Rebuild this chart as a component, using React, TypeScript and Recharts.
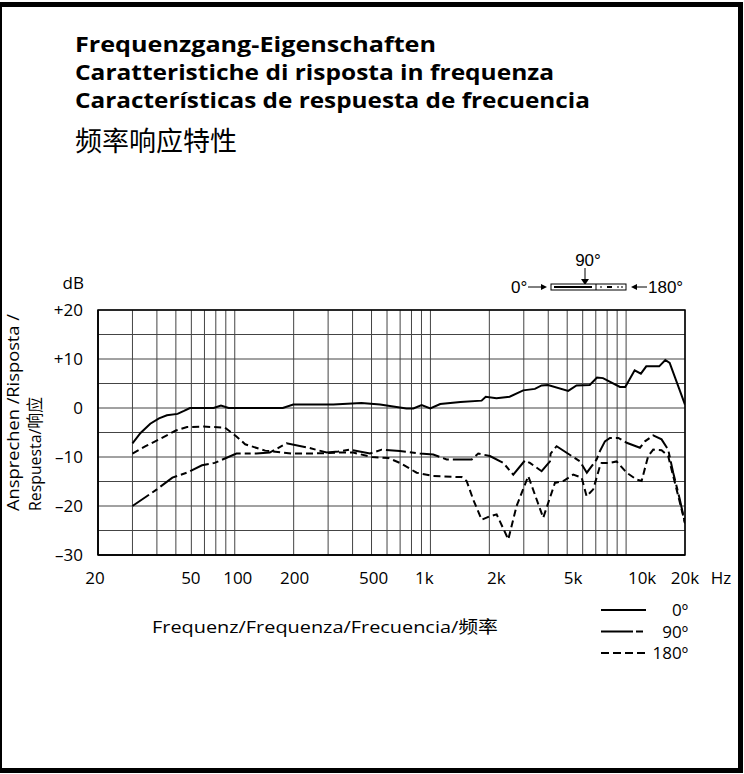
import React from "react";
import { LineChart, Line, XAxis, YAxis, CartesianGrid, ReferenceArea } from "recharts";

// ---------- data ----------
const freq0 = [30, 33, 37, 41, 45, 51, 55, 59, 78, 85, 93, 176, 199, 241, 319, 444, 553, 645, 754, 818, 902, 998, 1122, 1424, 1826, 1917, 2176, 2540, 2980, 3420, 3700, 3990, 5060, 5580, 6520, 7100, 7620, 9300, 9900, 11060, 11900, 12680, 14760, 15860, 16700, 20000];
const resp0 = [-7.2, -5.1, -3.2, -2.1, -1.5, -1.2, -0.6, 0, 0, 0.5, 0, 0, 0.7, 0.7, 0.7, 1.0, 0.7, 0.3, -0.1, -0.1, 0.6, -0.1, 0.8, 1.2, 1.5, 2.3, 2.0, 2.3, 3.6, 3.9, 4.6, 4.7, 3.5, 4.6, 4.7, 6.2, 6.1, 4.3, 4.3, 7.7, 7.0, 8.5, 8.5, 9.8, 9.2, 0.7];

const freq90 = [30, 40, 48, 57, 68, 79, 102, 129, 151, 184, 238, 295, 338, 388, 491, 564, 698, 884, 1034, 1210, 1624, 1755, 2014, 2356, 2650, 3041, 3224, 3700, 4083, 4112, 4416, 5808, 6300, 7068, 7348, 7796, 8266, 9120, 10066, 11770, 12480, 13760, 15180, 16410, 17410, 18830, 20000];
const resp90 = [-20, -16.6, -14.2, -13.2, -11.7, -11.2, -9.3, -9.3, -9.1, -7.2, -8.1, -9.1, -8.9, -8.5, -9.3, -8.5, -8.8, -9.3, -9.5, -10.5, -10.5, -9.3, -9.8, -11.2, -13.6, -10.7, -11.2, -12.9, -10.9, -9.3, -7.8, -10.9, -13.2, -10.5, -8.8, -6.8, -6.1, -6.1, -7.1, -8.1, -6.8, -5.6, -6.4, -8.5, -13.2, -18.7, -23.5];

const freq180 = [30, 35, 41, 50, 57, 69, 89, 102, 113, 143, 195, 241, 294, 338, 403, 501, 609, 698, 850, 1034, 1444, 1531, 1655, 1827, 2014, 2179, 2500, 2757, 3162, 3771, 4327, 4774, 5368, 5926, 6284, 6792, 7348, 7498, 8266, 8943, 10066, 11320, 12000, 12970, 13760, 15180, 16410, 17410, 18830, 20000];
const resp180 = [-9.3, -7.8, -6.4, -4.6, -3.9, -3.8, -4.0, -5.8, -7.4, -8.7, -9.3, -9.3, -9.2, -9.1, -9.1, -10.0, -10.2, -11.2, -13.2, -13.9, -14.1, -14.9, -18.7, -22.8, -22.1, -21.7, -26.8, -20.0, -13.9, -22.4, -15.3, -14.9, -13.6, -14.2, -18.0, -16.6, -11.9, -11.2, -11.2, -10.9, -13.2, -14.6, -14.9, -9.8, -8.5, -8.6, -9.8, -13.9, -19.3, -23.5];

const gridFreqs = [20, 30, 40, 50, 60, 70, 80, 90, 100, 200, 300, 400, 500, 600, 700, 800, 900, 1000, 2000, 3000, 4000, 5000, 6000, 7000, 8000, 9000, 10000, 20000];
const xLabelFreqs = [20, 50, 100, 200, 500, 1000, 2000, 5000, 10000, 20000];
const xLabelTexts = ["20", "50", "100", "200", "500", "1k", "2k", "5k", "10k", "20k"];
const xLabelNudge = [-3, 15, 3, 1, 2, -6, 7, 6, 16, 0];

const dbGrid = [-30, -25, -20, -15, -10, -5, 0, 5, 10, 15, 20];
const dbLabelValues = [-30, -20, -10, 0, 10, 20];
const dbLabelTexts = ["\u201330", "\u201320", "\u201310", "0", "+10", "+20"];

const titleLines = [
  "Frequenzgang-Eigenschaften",
  "Caratteristiche di risposta in frequenza",
  "Características de respuesta de frecuencia",
];
const titleCJK = "频率响应特性";

const seriesNames = ["0º", "90º", "180º"];
const seriesDash = [undefined, "20 4 6 4", "7 4"];
const legendDash = [undefined, "32 3 7 40", "8 4"];

const series = [
  { key: "s0", freqs: freq0, resp: resp0 },
  { key: "s90", freqs: freq90, resp: resp90 },
  { key: "s180", freqs: freq180, resp: resp180 },
].map((s, i) => ({
  ...s,
  name: seriesNames[i],
  dash: seriesDash[i],
  data: s.freqs.map((f, j) => ({ f, db: s.resp[j] })),
}));

const FONT = "'Open Sans', 'Noto Sans', 'Noto Sans CJK SC', sans-serif";

const XTick = (props: any) => {
  const { x, y, payload } = props;
  const idx = xLabelFreqs.indexOf(payload.value);
  if (idx < 0) return <g />;
  return (
    <text x={x + xLabelNudge[idx]} y={y + 29} textAnchor="middle" fontSize={17} fontFamily={FONT} fill="#000">
      {xLabelTexts[idx]}
    </text>
  );
};

const YTick = (props: any) => {
  const { x, y, payload } = props;
  const idx = dbLabelValues.indexOf(payload.value);
  if (idx < 0) return <g />;
  return (
    <text x={x - 15} y={y + 6} textAnchor="end" fontSize={17} fontFamily={FONT} fill="#000">
      {dbLabelTexts[idx]}
    </text>
  );
};

export default function App() {
  return (
    <div
      style={{
        position: "absolute",
        left: 0,
        top: 0,
        width: 744,
        height: 774,
        background: "#fff",
        fontFamily: FONT,
      }}
    >
      <LineChart
        width={744}
        height={774}
        margin={{ top: 310, right: 59, bottom: 179, left: 38 }}
      >
        <CartesianGrid stroke="#444" strokeWidth={1} />
        <XAxis
          dataKey="f"
          type="number"
          scale="log"
          domain={[20, 20000]}
          ticks={gridFreqs}
          interval={0}
          allowDataOverflow
          tickLine={false}
          tickSize={0}
          tickMargin={0}
          axisLine={{ stroke: "#000", strokeWidth: 1.5 }}
          tick={<XTick />}
          height={40}
        />
        <YAxis
          type="number"
          domain={[-30, 20]}
          ticks={dbGrid}
          interval={0}
          allowDataOverflow
          tickLine={false}
          tickSize={0}
          tickMargin={0}
          axisLine={{ stroke: "#000", strokeWidth: 1.5 }}
          tick={<YTick />}
          width={60}
        />
        <ReferenceArea x1={20} x2={20000} y1={-30} y2={20} fill="none" stroke="#000" strokeWidth={1.5} />
        {series.map((s) => (
          <Line
            key={s.key}
            data={s.data}
            dataKey="db"
            name={s.name}
            type="linear"
            stroke="#000"
            strokeWidth={2}
            strokeDasharray={s.dash}
            dot={false}
            activeDot={false}
            isAnimationActive={false}
          />
        ))}
      </LineChart>

      <svg
        width={744}
        height={774}
        style={{ position: "absolute", left: 0, top: 0, pointerEvents: "none" }}
      >
        {/* outer frame */}
        <rect x={0} y={2} width={2} height={770} fill="#000" />
        <rect x={0} y={2} width={743} height={5} fill="#000" />
        <rect x={738} y={2} width={5} height={770} fill="#000" />
        <rect x={0} y={768} width={743} height={5} fill="#000" />

        {/* titles */}
        {titleLines.map((t, i) => (
          <text
            key={t}
            x={75}
            y={52 + i * 28}
            fontSize={20.5}
            fontWeight={700}
            fontFamily={FONT}
            fill="#000"
            textLength={[361, 479, 515][i]}
            lengthAdjust="spacingAndGlyphs"
          >
            {t}
          </text>
        ))}
        <text x={75} y={151} fontSize={27} fontFamily="'Noto Sans CJK SC', sans-serif" fill="#000">
          {titleCJK}
        </text>

        {/* axis unit labels */}
        <text x={84} y={289} textAnchor="end" fontSize={17} fontFamily={FONT} fill="#000">dB</text>
        <text x={721} y={584} textAnchor="middle" fontSize={17} fontFamily={FONT} fill="#000">Hz</text>

        {/* y-axis title */}
        <g transform="translate(19,511) rotate(-90)">
          <text x={0} y={0} fontSize={17} fontFamily={FONT} fill="#000" textLength={197} lengthAdjust="spacingAndGlyphs">
            Ansprechen /Risposta /
          </text>
          <text x={0} y={22} fontSize={17} fontFamily={FONT} fill="#000" textLength={114} lengthAdjust="spacingAndGlyphs">
            Respuesta/响应
          </text>
        </g>

        {/* x-axis title */}
        <text x={152} y={633} fontSize={17} fontFamily={FONT} fill="#000" textLength={346} lengthAdjust="spacingAndGlyphs">
          Frequenz/Frequenza/Frecuencia/频率
        </text>

        {/* legend */}
        {series.map((s, i) => (
          <g key={s.key}>
            <line
              x1={601}
              x2={646}
              y1={610 + i * 21.5}
              y2={610 + i * 21.5}
              stroke="#000"
              strokeWidth={2}
              strokeDasharray={legendDash[i]}
            />
            <text x={688} y={616 + i * 21.5} textAnchor="end" fontSize={17} fontFamily={FONT} fill="#000">
              {s.name}
            </text>
          </g>
        ))}

        {/* microphone orientation icon */}
        <g fontFamily="'Liberation Sans', Arial, sans-serif" fontSize={17} fill="#000">
          <text x={588} y={266} textAnchor="middle">90°</text>
          <line x1={585} x2={585} y1={268} y2={281} stroke="#000" strokeWidth={1} />
          <path d="M581,279 L585,285 L589,279 Z" fill="#000" />
          <text x={511} y={293}>0°</text>
          <line x1={528} x2={543} y1={287} y2={287} stroke="#000" strokeWidth={1} />
          <path d="M541,284 L547,287 L541,290 Z" fill="#000" />
          <rect x={551} y={284} width={75} height={6} fill="#fff" stroke="#000" strokeWidth={1} />
          <line x1={596} x2={596} y1={284} y2={290} stroke="#000" strokeWidth={1} />
          <line x1={554} x2={592} y1={287} y2={287} stroke="#000" strokeWidth={2} />
          <rect x={607} y={286} width={5} height={2} fill="#000" />
          <rect x={600} y={286} width={2} height={2} fill="#777" />
          <rect x={617} y={286} width={2} height={2} fill="#777" />
          <rect x={621} y={286} width={2} height={2} fill="#777" />
          <path d="M637,284 L631,287 L637,290 Z" fill="#000" />
          <line x1={635} x2={647} y1={287} y2={287} stroke="#000" strokeWidth={1} />
          <text x={648} y={293}>180°</text>
        </g>
      </svg>
    </div>
  );
}
